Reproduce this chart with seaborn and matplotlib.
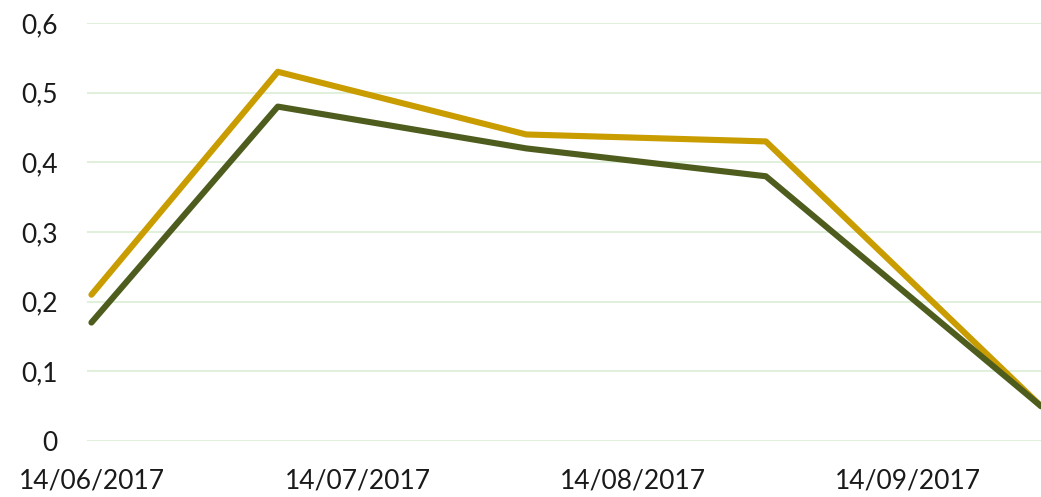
import pandas as pd
import numpy as np
import seaborn as sns
import matplotlib.pyplot as plt
import matplotlib.dates as mdates
from matplotlib.ticker import FuncFormatter

sns.set_theme(style="white")
plt.rcParams['font.family'] = ['Lato', 'DejaVu Sans']

# data
dates = ['2017-06-14', '2017-07-05', '2017-08-02', '2017-08-29', '2017-09-29']
serie_a = [0.21, 0.53, 0.44, 0.43, 0.05]
serie_b = [0.17, 0.48, 0.42, 0.38, 0.05]
tick_dates = ['2017-06-14', '2017-07-14', '2017-08-14', '2017-09-14']

df = pd.DataFrame({
    'date': pd.to_datetime(dates * 2),
    'value': serie_a + serie_b,
    'serie': ['A'] * len(dates) + ['B'] * len(dates),
})

fig = plt.figure(figsize=(10.41, 4.97), dpi=100)
ax = fig.add_axes([87 / 1041, 56 / 497, 954 / 1041, 418 / 497])

sns.lineplot(data=df, x='date', y='value', hue='serie',
             palette={'A': '#C99C00', 'B': '#4E5D1E'},
             linewidth=4.4, legend=False, ax=ax, clip_on=False)

ax.set_ylim(0, 0.6)
ax.set_yticks(np.arange(0, 0.61, 0.1))
ax.yaxis.set_major_formatter(FuncFormatter(
    lambda v, p: '0' if abs(v) < 1e-9 else f'{v:.1f}'.replace('.', ',')))
start = pd.Timestamp(dates[0]) - pd.Timedelta(hours=12)
ax.set_xlim(start, pd.Timestamp(dates[-1]))
ax.set_xticks(pd.to_datetime(tick_dates))
ax.xaxis.set_major_formatter(mdates.DateFormatter('%d/%m/%Y'))

ax.grid(axis='y', color='#DDEFD8', linewidth=1.3)
ax.set_axisbelow(True)
for s in ax.spines.values():
    s.set_visible(False)
ax.tick_params(axis='y', length=0, pad=21, labelsize=19, labelcolor='#1A1A1A')
ax.tick_params(axis='x', length=0, pad=20, labelsize=19, labelcolor='#1A1A1A')
ax.set_xlabel('')
ax.set_ylabel('')

fig.savefig('out.png', dpi=100)
